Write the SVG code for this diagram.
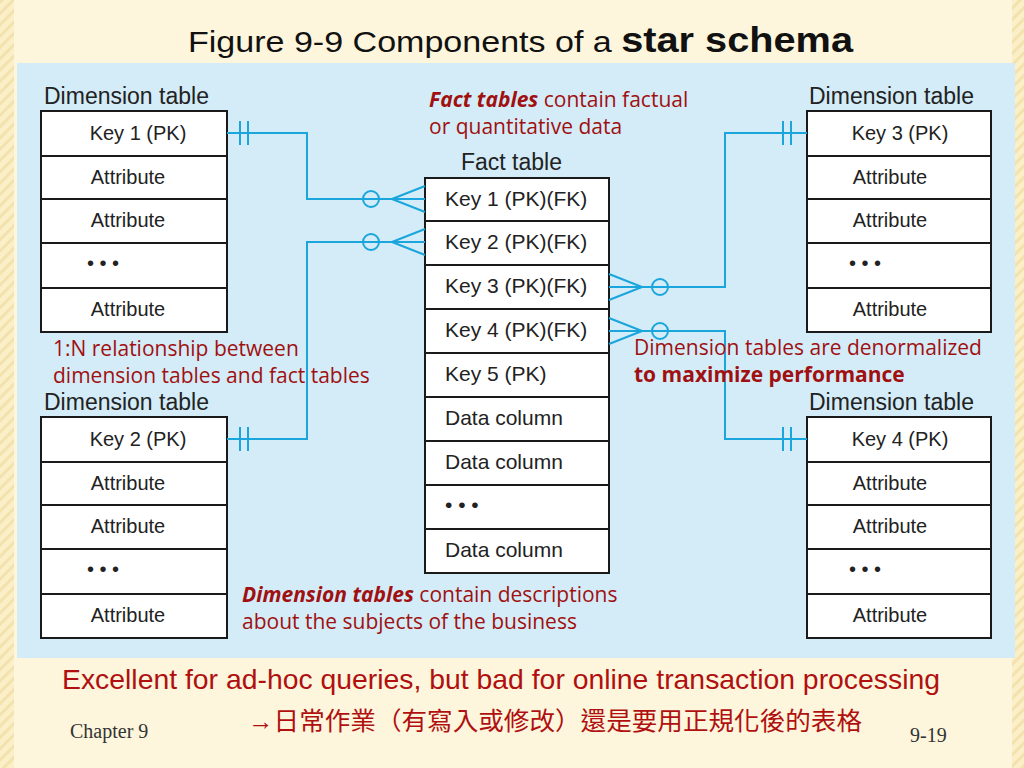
<svg xmlns="http://www.w3.org/2000/svg" width="1024" height="768" viewBox="0 0 1024 768">
<defs>
<pattern id="st" width="8" height="8" patternUnits="userSpaceOnUse" patternTransform="rotate(45)"><rect width="8" height="8" fill="#fbefc8"/><rect width="3" height="8" fill="#f3e2ae"/></pattern>
</defs>
<style>
.c{fill:#fff;stroke:#1a1a1a;stroke-width:2}
.t{font-family:"Liberation Sans",Arial,sans-serif;font-size:20px;fill:#222;text-anchor:middle}
.f{font-family:"Liberation Sans",Arial,sans-serif;font-size:21px;fill:#222}
.h{font-family:"Liberation Sans",Arial,sans-serif;font-size:23px;fill:#222}
.r{font-family:"Open Sans","Liberation Sans",sans-serif;font-size:21px;fill:#a01010}
.ln{fill:none;stroke:#1aa6dc;stroke-width:2}
</style>
<rect width="1024" height="768" fill="#fdf6dc"/>
<rect width="14" height="768" fill="url(#st)"/>
<rect x="1012" width="12" height="768" fill="url(#st)"/>
<rect x="17" y="63" width="998" height="595" fill="#d3ecf8"/>
<text x="188" y="52" font-family="Liberation Sans,Arial,sans-serif" font-size="30" fill="#111" textLength="665" lengthAdjust="spacingAndGlyphs">Figure 9-9 Components of a <tspan font-weight="bold" font-size="35">star schema</tspan></text>

<g id="dim1">
<text class="h" x="44" y="104">Dimension table</text>
<rect class="c" x="41" y="111" width="186" height="45"/><rect class="c" x="41" y="156" width="186" height="43"/><rect class="c" x="41" y="199" width="186" height="44"/><rect class="c" x="41" y="243" width="186" height="45"/><rect class="c" x="41" y="288" width="186" height="44"/>
<text class="t" x="138" y="140">Key 1 (PK)</text><text class="t" x="128" y="184">Attribute</text><text class="t" x="128" y="227">Attribute</text><text class="t" x="103" y="270">• • •</text><text class="t" x="128" y="316">Attribute</text>
</g>
<g id="dim2">
<text class="h" x="44" y="410">Dimension table</text>
<rect class="c" x="41" y="417" width="186" height="45"/><rect class="c" x="41" y="462" width="186" height="43"/><rect class="c" x="41" y="505" width="186" height="44"/><rect class="c" x="41" y="549" width="186" height="45"/><rect class="c" x="41" y="594" width="186" height="44"/>
<text class="t" x="138" y="446">Key 2 (PK)</text><text class="t" x="128" y="490">Attribute</text><text class="t" x="128" y="533">Attribute</text><text class="t" x="103" y="576">• • •</text><text class="t" x="128" y="622">Attribute</text>
</g>
<g id="dim3">
<text class="h" x="809" y="104">Dimension table</text>
<rect class="c" x="807" y="111" width="184" height="45"/><rect class="c" x="807" y="156" width="184" height="43"/><rect class="c" x="807" y="199" width="184" height="44"/><rect class="c" x="807" y="243" width="184" height="45"/><rect class="c" x="807" y="288" width="184" height="44"/>
<text class="t" x="900" y="140">Key 3 (PK)</text><text class="t" x="890" y="184">Attribute</text><text class="t" x="890" y="227">Attribute</text><text class="t" x="865" y="270">• • •</text><text class="t" x="890" y="316">Attribute</text>
</g>
<g id="dim4">
<text class="h" x="809" y="410">Dimension table</text>
<rect class="c" x="807" y="417" width="184" height="45"/><rect class="c" x="807" y="462" width="184" height="43"/><rect class="c" x="807" y="505" width="184" height="44"/><rect class="c" x="807" y="549" width="184" height="45"/><rect class="c" x="807" y="594" width="184" height="44"/>
<text class="t" x="900" y="446">Key 4 (PK)</text><text class="t" x="890" y="490">Attribute</text><text class="t" x="890" y="533">Attribute</text><text class="t" x="865" y="576">• • •</text><text class="t" x="890" y="622">Attribute</text>
</g>
<g id="fact">
<text class="h" x="461" y="170">Fact table</text>
<rect class="c" x="425" y="178" width="184" height="43"/><rect class="c" x="425" y="221" width="184" height="44"/><rect class="c" x="425" y="265" width="184" height="44"/><rect class="c" x="425" y="309" width="184" height="44"/><rect class="c" x="425" y="353" width="184" height="44"/><rect class="c" x="425" y="397" width="184" height="44"/><rect class="c" x="425" y="441" width="184" height="44"/><rect class="c" x="425" y="485" width="184" height="44"/><rect class="c" x="425" y="529" width="184" height="44"/>
<g class="f"><text x="445" y="206">Key 1 (PK)(FK)</text><text x="445" y="249">Key 2 (PK)(FK)</text><text x="445" y="293">Key 3 (PK)(FK)</text><text x="445" y="337">Key 4 (PK)(FK)</text><text x="445" y="381">Key 5 (PK)</text><text x="445" y="425">Data column</text><text x="445" y="469">Data column</text><text x="445" y="512">• • •</text><text x="445" y="557">Data column</text></g>
</g>
<g id="connectors" class="ln">
<path d="M227 133H307V199H425M240 121V145M248 121V145M392 199L425 186M392 199L425 212"/><circle cx="371" cy="199" r="8"/>
<path d="M227 439H307V242H425M240 427V451M248 427V451M392 242L425 229M392 242L425 255"/><circle cx="371" cy="242" r="8"/>
<path d="M609 287H725V133H807M783 121V145M791 121V145M642 287L609 274M642 287L609 300"/><circle cx="660" cy="287" r="8"/>
<path d="M609 331H725V439H807M783 427V451M791 427V451M642 331L609 318M642 331L609 344"/><circle cx="660" cy="331" r="8"/>
</g>
<g id="notes">
<text class="r" x="429" y="107"><tspan font-weight="bold" font-style="italic">Fact tables</tspan> contain factual</text>
<text class="r" x="429" y="134">or quantitative data</text>
<text class="r" x="53" y="356">1:N relationship between</text>
<text class="r" x="53" y="383">dimension tables and fact tables</text>
<text class="r" x="634" y="355">Dimension tables are denormalized</text>
<text class="r" x="634" y="382" font-weight="bold">to maximize performance</text>
<text class="r" x="242" y="602"><tspan font-weight="bold" font-style="italic">Dimension tables</tspan> contain descriptions</text>
<text class="r" x="242" y="629">about the subjects of the business</text>
</g>
<text x="62" y="689" font-family="Liberation Sans,Arial,sans-serif" font-size="28" fill="#b01010" textLength="878" lengthAdjust="spacingAndGlyphs">Excellent for ad-hoc queries, but bad for online transaction processing</text>
<text x="248" y="730" font-family="Liberation Sans,'Noto Sans CJK TC',sans-serif" font-size="25" fill="#b01010" textLength="614" lengthAdjust="spacingAndGlyphs">→日常作業（有寫入或修改）還是要用正規化後的表格</text>
<text x="70" y="738" font-family="Liberation Serif,serif" font-size="20" fill="#333">Chapter 9</text>
<text x="910" y="742" font-family="Liberation Serif,serif" font-size="20" fill="#333">9-19</text>
</svg>
